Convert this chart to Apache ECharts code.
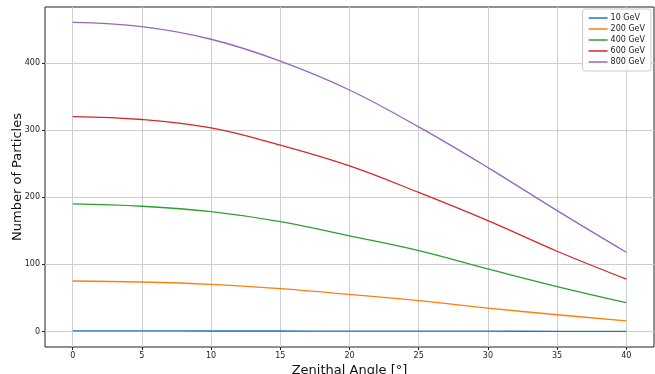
<!DOCTYPE html>
<html lang="en">
  <head>
    <meta charset="UTF-8" />
    <title>Number of Particles vs Zenithal Angle</title>
    <script src="https://cdn.jsdelivr.net/npm/echarts@6/dist/echarts.min.js"></script>
    <style>
      html, body { margin: 0; padding: 0; background: #fff; }
      #chart { width: 655px; height: 374px; }
    </style>
  </head>
  <body>
    <div id="chart"></div>
    <script>
      const angles = [0, 5, 10, 15, 20, 25, 30, 35, 40];
      const gev10 = [0.9, 0.9, 0.8, 0.8, 0.7, 0.6, 0.5, 0.4, 0.3];
      const gev200 = [75.2, 73.7, 70.2, 63.8, 55.3, 46, 35, 25, 16];
      const gev400 = [190, 186.5, 178.5, 163.7, 142.5, 120.5, 93.3, 67, 43];
      const gev600 = [320, 315.6, 303, 277.4, 246.5, 207, 165, 119.5, 78];
      const gev800 = [460, 453.8, 435, 402.5, 359.5, 304.5, 244, 180, 118];

      // tick labels
      const xTicks = [0, 5, 10, 15, 20, 25, 30, 35, 40];
      const yTicks = [0, 100, 200, 300, 400];

      const names = ["10 GeV", "200 GeV", "400 GeV", "600 GeV", "800 GeV"];
      const values = [gev10, gev200, gev400, gev600, gev800];
      const colors = ["#1f77b4", "#ff7f0e", "#2ca02c", "#d62728", "#9467bd"];

      const font = "DejaVu Sans";
      let chart = echarts.init(document.getElementById("chart"));

      let series = names.map(function (n, i) {
        return {
          name: n,
          type: "line",
          data: angles.map((a, j) => [a, values[i][j]]),
          smooth: 0.4,
          symbol: "none",
          lineStyle: { width: 1.3, color: colors[i] },
          itemStyle: { color: colors[i] },
        };
      });

      chart.setOption({
        animation: false,
        grid: {
          left: 45, right: 1, top: 7, bottom: 27,
          outerBoundsMode: "none",
          containLabel: false,
          show: true, borderColor: "#222", borderWidth: 1,
        },
        legend: {
          orient: "vertical",
          right: 4, top: 9,
          icon: "rect", itemWidth: 19, itemHeight: 1.5, itemGap: 3,
          padding: [5, 6, 5, 6],
          borderColor: "#ccc", borderWidth: 1, borderRadius: 3,
          backgroundColor: "rgba(255,255,255,0.8)",
          textStyle: { fontFamily: font, fontSize: 8, color: "#222", padding: [0, 0, 0, -2] },
          data: names,
        },
        xAxis: {
          type: "value",
          min: -2, max: 42, splitNumber: 9,
          name: "Zenithal Angle [°]",
          nameLocation: "middle", nameGap: 17,
          nameMoveOverlap: false,
          nameTextStyle: { fontFamily: font, fontSize: 13, color: "#111" },
          axisLine: { show: false, onZero: false },
          axisTick: { show: true, length: 3, customValues: xTicks, lineStyle: { color: "#222" } },
          axisLabel: {
            fontFamily: font, fontSize: 8, color: "#222", margin: 5,
            customValues: xTicks,
          },
          splitLine: { show: true, lineStyle: { color: "#cfcfcf", width: 1 } },
        },
        yAxis: {
          type: "value",
          min: -23, max: 483, splitNumber: 5,
          name: "Number of Particles",
          nameLocation: "middle", nameGap: 21,
          nameMoveOverlap: false,
          nameTextStyle: { fontFamily: font, fontSize: 13, color: "#111" },
          axisLine: { show: false, onZero: false },
          axisTick: { show: true, length: 3, customValues: yTicks, lineStyle: { color: "#222" } },
          axisLabel: {
            fontFamily: font, fontSize: 8, color: "#222", margin: 5,
            customValues: yTicks,
          },
          splitLine: { show: true, lineStyle: { color: "#cfcfcf", width: 1 } },
        },
        series: series,
      });
    </script>
  </body>
</html>
